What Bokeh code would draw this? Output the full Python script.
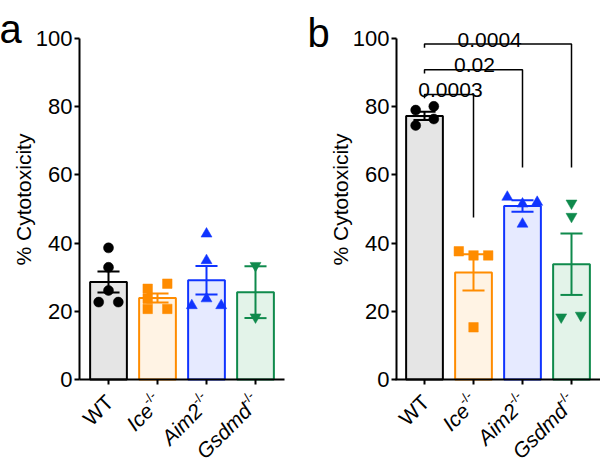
import math
from bokeh.plotting import figure
from bokeh.models import Range1d, FixedTicker, ColumnDataSource, CustomJSTickFormatter
from bokeh.layouts import row
from bokeh.embed import file_html
from bokeh.resources import INLINE
from bokeh.core.properties import value, field

FONT = "Liberation Sans"

# ---------------- data ----------------
categories = ["WT", "Ice", "Aim2", "Gsdmd"]
superscripts = ["", "-/-", "-/-", "-/-"]
label_styles = ["normal", "italic", "italic", "italic"]
line_colors = ["#000000", "#ff8c00", "#1034ff", "#0f8a4c"]
fill_colors = ["#e5e5e5", "#fff3e4", "#e6eaff", "#e3f3e9"]
markers = ["circle", "square", "triangle", "inverted_triangle"]
y_ticks = [0, 20, 40, 60, 80, 100]
y_title = "% Cytotoxicity"

# panel a: bar mean, SEM, individual points (value, horizontal jitter in category units)
a_mean = [28.6, 23.9, 29.1, 25.6]
a_sem = [3.1, 1.3, 4.2, 7.6]
a_wt = [38.6, 32.9, 26.1, 22.7, 22.7]
a_wt_dx = [0.0, 0.0, 0.0, -0.2, 0.2]
a_ice = [26.6, 28.1, 23.7, 20.7, 20.7]
a_ice_dx = [-0.2, 0.2, -0.2, -0.2, 0.2]
a_aim2 = [42.7, 34.9, 23.7, 21.7, 21.7]
a_aim2_dx = [0.0, 0.0, 0.0, -0.3, 0.3]
a_gsdmd = [33.4, 18.3]
a_gsdmd_dx = [0.0, 0.0]

# panel b
b_mean = [77.3, 31.4, 50.9, 33.8]
b_sem = [1.2, 5.3, 1.7, 9.0]
b_wt = [79.0, 80.1, 74.5, 76.4]
b_wt_dx = [-0.18, 0.19, -0.18, 0.19]
b_ice = [37.6, 36.4, 36.4, 15.3]
b_ice_dx = [-0.3, 0.0, 0.3, 0.0]
b_aim2 = [53.5, 51.5, 52.0, 45.6]
b_aim2_dx = [-0.31, 0.0, 0.3, 0.0]
b_gsdmd = [51.7, 47.8, 18.3, 18.8]
b_gsdmd_dx = [0.0, 0.0, -0.21, 0.19]

# significance brackets in panel b
cmp_left = [0, 0, 0]
cmp_right = [1, 2, 3]
cmp_y = [83.6, 90.8, 98.4]
cmp_end = [47.5, 62.2, 62.2]
cmp_text = ["0.0003", "0.02", "0.0004"]
cmp_text_x = [0.53, 1.02, 1.33]

# ---------------- layout constants (screen px) ----------------
W, H = 300, 463
AXIS_Y0 = 379          # screen y of value 0
PXY = 3.41             # px per % unit
PXX = 49.0             # px per category
TICK_FS = 22
LABEL_FS = 21
SUP_FS = 13
X_AXIS_LO, X_AXIS_HI = -0.59, 3.59


def make_panel(means, sems, vals, dxs, wt_px, yaxis_px, letter, letter_px, letter_base):
    x_start = -wt_px / PXX
    x_end = (W - wt_px) / PXX
    y_start = (AXIS_Y0 - H) / PXY
    y_end = AXIS_Y0 / PXY
    yaxis_x = (yaxis_px - wt_px) / PXX

    p = figure(width=W, height=H, output_backend="svg", toolbar_location=None,
               x_range=Range1d(x_start, x_end), y_range=Range1d(y_start, y_end),
               min_border=0, min_border_left=0, min_border_right=0,
               min_border_top=0, min_border_bottom=0)
    p.outline_line_color = None
    p.xgrid.visible = False
    p.ygrid.visible = False

    # y axis, fixed at the left end of the x axis
    ya = p.yaxis[0]
    ya.fixed_location = yaxis_x
    ya.ticker = FixedTicker(ticks=y_ticks)
    ya.bounds = (0, 100)
    ya.axis_line_width = 2
    ya.major_tick_line_width = 2
    ya.major_tick_out = 5
    ya.major_tick_in = 0
    ya.minor_tick_line_color = None
    ya.major_label_text_font = FONT
    ya.major_label_text_font_size = f"{TICK_FS}px"
    ya.major_label_text_color = "black"
    ya.major_label_standoff = 2

    # x axis, fixed at y = 0 (its labels are drawn below as rotated texts)
    xa = p.xaxis[0]
    xa.fixed_location = 0
    xa.ticker = FixedTicker(ticks=list(range(len(categories))))
    xa.bounds = (X_AXIS_LO, X_AXIS_HI)
    xa.axis_line_width = 2
    xa.major_tick_line_width = 2
    xa.major_tick_out = 5
    xa.major_tick_in = 0
    xa.minor_tick_line_color = None
    xa.formatter = CustomJSTickFormatter(code="return ''")

    idx = list(range(len(categories)))
    src = ColumnDataSource(dict(x=idx, top=means, fill=fill_colors, line=line_colors,
                                lo=[m - s for m, s in zip(means, sems)],
                                hi=[m + s for m, s in zip(means, sems)],
                                cl=[i - 0.225 for i in idx], cr=[i + 0.225 for i in idx]))
    p.vbar(x="x", top="top", bottom=0, width=0.75, fill_color="fill", line_color="line",
           line_width=2, source=src)

    sizes = {"circle": 10, "square": 9.5, "triangle": 11, "inverted_triangle": 11}
    for i, (v, d) in enumerate(zip(vals, dxs)):
        p.scatter(x=[i + dd for dd in d], y=v, marker=markers[i], size=sizes[markers[i]],
                  fill_color=line_colors[i], line_color=line_colors[i], line_width=0.5)

    p.segment(x0="x", y0="lo", x1="x", y1="hi", line_color="line", line_width=2, source=src)
    p.segment(x0="cl", y0="hi", x1="cr", y1="hi", line_color="line", line_width=2, source=src)
    p.segment(x0="cl", y0="lo", x1="cr", y1="lo", line_color="line", line_width=2, source=src)

    # y-axis title
    p.text(x=[yaxis_x - 56 / PXX], y=[(AXIS_Y0 - 199) / PXY], text=[y_title],
           angle=math.pi / 2, text_align="center", text_baseline="middle",
           text_font=value(FONT), text_font_size=value(f"{LABEL_FS}px"), text_color="black")

    # category labels (rotated 45deg, with superscripts)
    c = math.cos(math.pi / 4)
    end_dx, end_dy = 1.0, 19.0     # px from tick / axis to end of label baseline
    raise_px = 7.0
    mx, my, sx, sy, sup_text = [], [], [], [], []
    for i in idx:
        sw = 12.3 if superscripts[i] else 0.0
        m_x = end_dx - c * sw
        m_y = end_dy + c * sw
        mx.append(i + m_x / PXX)
        my.append(-m_y / PXY)
        if superscripts[i]:
            sx.append(i + (m_x - c * raise_px) / PXX)
            sy.append(-(m_y - c * raise_px) / PXY)
            sup_text.append(superscripts[i])
    lab_src = ColumnDataSource(dict(x=mx, y=my, text=categories, style=label_styles))
    sup_src = ColumnDataSource(dict(x=sx, y=sy, text=sup_text))
    p.text(x="x", y="y", text="text", source=lab_src, angle=math.pi / 4,
           text_align="right", text_baseline="alphabetic",
           text_font=value(FONT), text_font_size=value(f"{LABEL_FS}px"),
           text_font_style=field("style"), text_color="black")
    p.text(x="x", y="y", text="text", source=sup_src, angle=math.pi / 4,
           text_align="left", text_baseline="alphabetic",
           text_font=value(FONT), text_font_size=value(f"{SUP_FS}px"), text_color="black")

    # panel letter
    p.text(x=[(letter_px - wt_px) / PXX], y=[(AXIS_Y0 - letter_base) / PXY], text=[letter],
           text_font=value(FONT), text_font_size=value("40px"), text_align="left",
           text_baseline="alphabetic", text_color="black")
    return p


pa = make_panel(a_mean, a_sem, [a_wt, a_ice, a_aim2, a_gsdmd],
                [a_wt_dx, a_ice_dx, a_aim2_dx, a_gsdmd_dx],
                wt_px=108, yaxis_px=79, letter="a", letter_px=-1, letter_base=28)
pb = make_panel(b_mean, b_sem, [b_wt, b_ice, b_aim2, b_gsdmd],
                [b_wt_dx, b_ice_dx, b_aim2_dx, b_gsdmd_dx],
                wt_px=124, yaxis_px=96, letter="b", letter_px=7, letter_base=32)

# brackets
drop = 1.1
xs, ys = [], []
for l, r, y, e in zip(cmp_left, cmp_right, cmp_y, cmp_end):
    xs.append([l, l, r, r])
    ys.append([y - drop, y, y, e])
pb.multi_line(xs=xs, ys=ys, line_color="black", line_width=1.5)
pb.text(x=cmp_text_x, y=[y + 1.3 for y in cmp_y], text=cmp_text, text_align="center",
        text_baseline="alphabetic", text_font=value(FONT), text_font_size=value("21px"),
        text_color="black")

layout = row(pa, pb)
open("out.html", "w").write(file_html(layout, INLINE))
